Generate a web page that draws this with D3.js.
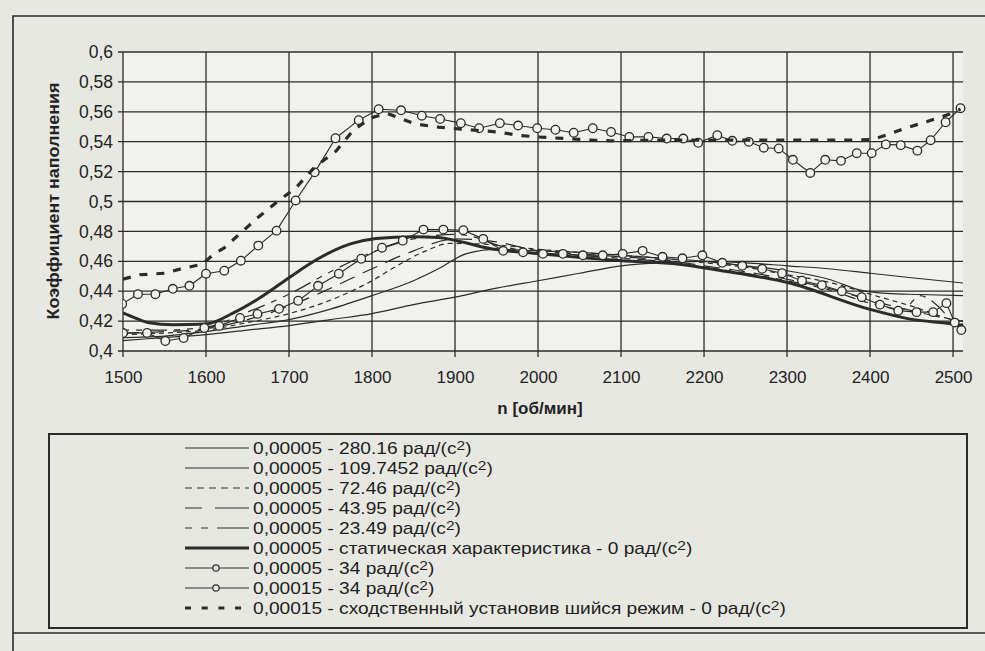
<!DOCTYPE html>
<html><head><meta charset="utf-8">
<script src="https://cdn.jsdelivr.net/npm/d3@7"></script>
<style>
body{margin:0;background:#e8e8e2;}
svg{display:block;font-family:"Liberation Sans",Arial,sans-serif;}
</style>
</head><body>
<svg id="c" width="985" height="651"></svg>
<script>
// ---------- data ----------
const xTicks = [1500,1600,1700,1800,1900,2000,2100,2200,2300,2400,2500];
const yTicks = [0.4,0.42,0.44,0.46,0.48,0.5,0.52,0.54,0.56,0.58,0.6];
const yTickLabels = ["0,4","0,42","0,44","0,46","0,48","0,5","0,52","0,54","0,56","0,58","0,6"];
const xTitle = "n [об/мин]";
const yTitle = "Коэффициент наполнения";
const legendLabels = [
  "0,00005 - 280.16 рад/(с",
  "0,00005 - 109.7452 рад/(с",
  "0,00005 - 72.46 рад/(с",
  "0,00005 - 43.95 рад/(с",
  "0,00005 - 23.49 рад/(с",
  "0,00005 - статическая характеристика - 0 рад/(с",
  "0,00005 - 34 рад/(с",
  "0,00015 - 34 рад/(с",
  "0,00015 - сходственный установив шийся режим - 0 рад/(с"
];

const rpmA = [1500,1550,1600,1650,1700,1750,1800,1850,1900,1950,2000,2050,2100,2150,2200,2250,2300,2350,2400,2450,2512];
const valA = [0.407,0.409,0.411,0.414,0.417,0.421,0.425,0.431,0.436,0.442,0.447,0.452,0.457,0.459,0.460,0.459,0.457,0.455,0.452,0.449,0.4455];

const rpmB = [1500,1550,1600,1650,1700,1750,1800,1850,1880,1913,1950,2000,2050,2100,2150,2200,2250,2300,2350,2390,2420,2460,2512];
const valB = [0.409,0.410,0.413,0.417,0.421,0.428,0.437,0.447,0.455,0.465,0.468,0.467,0.466,0.464,0.462,0.460,0.457,0.4537,0.448,0.4405,0.4385,0.4378,0.437];

const rpmC = [1500,1550,1600,1650,1700,1750,1800,1830,1865,1894,1950,2000,2050,2100,2150,2200,2250,2300,2350,2400,2450,2500,2512];
const valC = [0.411,0.412,0.414,0.419,0.425,0.434,0.447,0.457,0.467,0.472,0.471,0.468,0.466,0.464,0.462,0.459,0.456,0.451,0.446,0.438,0.430,0.421,0.420];

const rpmD = [1500,1550,1600,1650,1700,1750,1800,1850,1900,1950,2000,2050,2100,2150,2200,2250,2300,2350,2400,2450,2500,2512];
const valD = [0.412,0.413,0.415,0.421,0.430,0.442,0.455,0.467,0.475,0.473,0.467,0.465,0.463,0.461,0.457,0.453,0.448,0.442,0.434,0.427,0.421,0.420];

const rpmE = [1500,1550,1600,1650,1700,1750,1800,1850,1900,1925,1950,2000,2050,2100,2150,2200,2250,2300,2350,2400,2440,2460,2480,2500,2512];
const valE = [0.414,0.414,0.416,0.426,0.438,0.453,0.466,0.475,0.478,0.476,0.471,0.466,0.464,0.462,0.460,0.456,0.452,0.447,0.441,0.432,0.428,0.437,0.431,0.420,0.418];

const rpmS = [1500,1515,1530,1560,1600,1633,1665,1700,1735,1775,1805,1850,1880,1900,1942,2002,2101,2170,2218,2302,2399,2447,2500,2512];
const valS = [0.4255,0.422,0.419,0.4175,0.418,0.4255,0.4356,0.449,0.4617,0.4718,0.4752,0.4765,0.476,0.474,0.4685,0.465,0.4604,0.458,0.454,0.4456,0.428,0.4215,0.418,0.417];

const rpmF = [1500,1529,1551,1573,1598,1616,1641,1662,1688,1711,1735,1760,1787,1812,1837,1862,1886,1910,1934,1958,1982,2006,2030,2054,2078,2102,2126,2150,2174,2198,2222,2246,2270,2294,2318,2342,2366,2390,2412,2434,2456,2476,2492,2502,2510];
const valF = [0.412,0.4121,0.4067,0.4087,0.4154,0.4168,0.4221,0.4248,0.4282,0.4336,0.4436,0.4517,0.4617,0.4691,0.4738,0.4812,0.4812,0.4808,0.475,0.467,0.466,0.465,0.465,0.464,0.464,0.465,0.467,0.463,0.462,0.464,0.459,0.457,0.455,0.452,0.447,0.444,0.440,0.436,0.431,0.427,0.426,0.426,0.432,0.419,0.414];

const rpmG = [1499,1518,1539,1560,1580,1600,1622,1642,1663,1685,1708,1731,1756,1784,1808,1835,1860,1882,1907,1929,1954,1976,1999,2021,2043,2066,2088,2110,2133,2155,2175,2193,2216,2234,2254,2272,2290,2307,2328,2346,2365,2384,2402,2419,2437,2457,2473,2491,2509];
const valG = [0.4315,0.438,0.438,0.4416,0.4436,0.4517,0.4537,0.4604,0.4705,0.4805,0.5007,0.5195,0.5423,0.5544,0.5617,0.561,0.5574,0.5552,0.5524,0.549,0.5524,0.5508,0.549,0.548,0.546,0.549,0.5465,0.5432,0.5432,0.5421,0.5421,0.5393,0.5443,0.5406,0.5399,0.536,0.5355,0.5279,0.5191,0.5279,0.5272,0.5323,0.5323,0.5382,0.5377,0.534,0.541,0.553,0.5624];

const rpmH = [1500,1520,1550,1570,1595,1610,1622,1642,1664,1684,1708,1731,1757,1778,1799,1818,1851,1880,1904,1951,1976,1999,2066,2088,2150,2200,2250,2300,2330,2370,2402,2419,2440,2460,2478,2496,2509];
const valH = [0.448,0.451,0.452,0.455,0.458,0.465,0.469,0.479,0.490,0.499,0.509,0.523,0.534,0.548,0.556,0.559,0.552,0.5497,0.5486,0.5465,0.5443,0.5432,0.541,0.5406,0.541,0.541,0.541,0.541,0.541,0.541,0.5414,0.5443,0.5486,0.552,0.5552,0.5585,0.5618];

// ---------- layout / styles ----------
const INK = "#2b2b2b";
const L = 123, R = 963, T = 52, B = 351;
const x = d3.scaleLinear().domain([1500, 2512]).range([L, R]);
const y = d3.scaleLinear().domain([0.4, 0.6]).range([B, T]);

const series = [
  {rpm: rpmA, val: valA, w: 1.2, dash: null, smooth: true, lgDash: null},
  {rpm: rpmB, val: valB, w: 1.2, dash: null, smooth: true, lgDash: null},
  {rpm: rpmC, val: valC, w: 1.2, dash: "5,4", smooth: true, lgDash: "7,5"},
  {rpm: rpmD, val: valD, w: 1.2, dash: "16,9", smooth: true, lgDash: "17,13,40"},
  {rpm: rpmE, val: valE, w: 1.2, dash: "6,7,6,7,18,7", smooth: true, lgDash: "7,9,7,9,40"},
  {rpm: rpmS, val: valS, w: 3, dash: null, smooth: true, lgDash: null},
  {rpm: rpmF, val: valF, w: 1.1, dash: null, smooth: false, marker: true, lgDash: null},
  {rpm: rpmG, val: valG, w: 1.1, dash: null, smooth: false, marker: true, lgDash: null},
  {rpm: rpmH, val: valH, w: 3.2, dash: "8,9", smooth: false, lgDash: "6,10.7"}
];

const svg = d3.select("#c");
svg.append("rect").attr("width", 985).attr("height", 651).attr("fill", "#e8e8e2");

// outer frame
svg.append("path").attr("d", "M13,651 L13,16 L985,16")
  .attr("fill", "none").attr("stroke", INK).attr("stroke-width", 1.6);
svg.append("line").attr("x1", 13).attr("x2", 985).attr("y1", 633).attr("y2", 633)
  .attr("stroke", INK).attr("stroke-width", 1.4);

// plot area
svg.append("rect").attr("x", L).attr("y", T).attr("width", R - L).attr("height", B - T)
  .attr("fill", "#f1f1ed");

// grid
const grid = svg.append("g").attr("stroke", INK).attr("stroke-width", 1.3);
grid.selectAll(".h").data(yTicks).join("line")
  .attr("x1", L - 5).attr("x2", R).attr("y1", d => y(d)).attr("y2", d => y(d));
grid.selectAll(".v").data(xTicks).join("line")
  .attr("x1", d => x(d)).attr("x2", d => x(d)).attr("y1", T).attr("y2", B + 6);

// axes labels via d3 axes
const ax = svg.append("g").attr("transform", `translate(0,${B})`)
  .call(d3.axisBottom(x).tickValues(xTicks).tickSize(0).tickPadding(20).tickFormat(d3.format("d")));
ax.select(".domain").remove();
ax.selectAll("text").attr("font-size", 17).attr("fill", "#222").attr("font-family", "Liberation Sans, Arial, sans-serif");

const ay = svg.append("g").attr("transform", `translate(${L},0)`)
  .call(d3.axisLeft(y).tickValues(yTicks).tickSize(0).tickPadding(10).tickFormat((d, i) => yTickLabels[i]));
ay.select(".domain").remove();
ay.selectAll("text").attr("font-size", 17.5).attr("fill", "#222").attr("font-family", "Liberation Sans, Arial, sans-serif");

// titles
svg.append("text").attr("x", 540).attr("y", 414).attr("text-anchor", "middle")
  .attr("font-size", 17).attr("font-weight", "bold").attr("fill", "#222").text(xTitle);
svg.append("text").attr("transform", "translate(59,201) rotate(-90)").attr("text-anchor", "middle")
  .attr("font-size", 17).attr("font-weight", "bold").attr("fill", "#222")
  .attr("textLength", 237).attr("lengthAdjust", "spacingAndGlyphs").text(yTitle);

// clip
svg.append("clipPath").attr("id", "clip").append("rect")
  .attr("x", L).attr("y", T - 10).attr("width", R - L + 4).attr("height", B - T + 20);
const plot = svg.append("g").attr("clip-path", "url(#clip)");

const lineSmooth = d3.line().x(d => x(d[0])).y(d => y(d[1])).curve(d3.curveMonotoneX);
const lineStraight = d3.line().x(d => x(d[0])).y(d => y(d[1]));

series.forEach(s => {
  const pts = s.rpm.map((r, i) => [r, s.val[i]]);
  plot.append("path").attr("d", (s.smooth ? lineSmooth : lineStraight)(pts))
    .attr("fill", "none").attr("stroke", INK).attr("stroke-width", s.w)
    .attr("stroke-dasharray", s.dash).attr("stroke-linejoin", "round");
  if (s.marker) {
    plot.selectAll(null).data(pts).join("circle")
      .attr("cx", d => x(d[0])).attr("cy", d => y(d[1])).attr("r", 4.3)
      .attr("fill", "#f1f1ed").attr("stroke", INK).attr("stroke-width", 1.3);
  }
});

// legend
svg.append("rect").attr("x", 49).attr("y", 434).attr("width", 918).attr("height", 194)
  .attr("fill", "#e8e8e2").attr("stroke", INK).attr("stroke-width", 2);

const lg = svg.append("g");
const rowY = i => 448 + i * 20;
const texts = [];
series.forEach((s, i) => {
  const yy = rowY(i);
  lg.append("line").attr("x1", 185).attr("x2", 249).attr("y1", yy).attr("y2", yy)
    .attr("stroke", INK).attr("stroke-width", s.w === 3.2 ? 3 : s.w)
    .attr("stroke-dasharray", s.lgDash);
  if (s.marker) {
    lg.append("circle").attr("cx", 216).attr("cy", yy).attr("r", 3.2)
      .attr("fill", "#e8e8e2").attr("stroke", INK).attr("stroke-width", 1.2);
  }
  const t = lg.append("text").attr("x", 0).attr("y", 0)
    .attr("font-size", 16).attr("fill", "#1e1e1e");
  t.append("tspan").text(legendLabels[i]);
  t.append("tspan").attr("dy", -4).attr("font-size", 13).text("2");
  t.append("tspan").attr("dy", 4).text(")");
  texts.push({t, yy});
});
let maxLen = 0;
texts.forEach(o => { maxLen = Math.max(maxLen, o.t.node().getComputedTextLength()); });
const k = 533 / maxLen;
texts.forEach(o => o.t.attr("transform", `translate(253,${o.yy + 6}) scale(${k},1)`));
</script>
</body></html>
